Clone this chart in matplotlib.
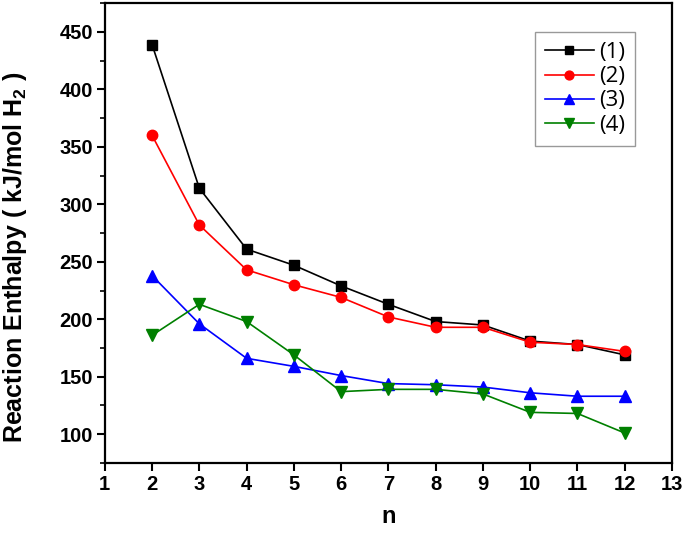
import matplotlib.pyplot as plt
from matplotlib.ticker import MultipleLocator

plt.rcParams['font.family'] = ['Liberation Sans', 'DejaVu Sans']
plt.rcParams['mathtext.fontset'] = 'custom'
plt.rcParams['mathtext.rm'] = 'Liberation Sans'
plt.rcParams['mathtext.bf'] = 'Liberation Sans:bold'

n = [2, 3, 4, 5, 6, 7, 8, 9, 10, 11, 12]
s1 = [439, 314, 261, 247, 229, 213, 198, 195, 181, 178, 169]
s2 = [360, 282, 243, 230, 219, 202, 193, 193, 180, 178, 172]
s3 = [238, 196, 166, 159, 151, 144, 143, 141, 136, 133, 133]
s4 = [186, 213, 198, 169, 137, 139, 139, 135, 119, 118, 101]
labels = ['(1)', '(2)', '(3)', '(4)']

fig = plt.figure(figsize=(6.85, 5.37), dpi=100)
ax = fig.add_axes([0.153, 0.138, 0.828, 0.856])

ax.plot(n, s1, color='black', marker='s', ms=6.5, lw=1.2, label=labels[0])
ax.plot(n, s2, color='red', marker='o', ms=7.5, lw=1.2, label=labels[1])
ax.plot(n, s3, color='blue', marker='^', ms=8, lw=1.2, label=labels[2])
ax.plot(n, s4, color='green', marker='v', ms=8, lw=1.2, label=labels[3])

ax.set_xlim(1, 13)
ax.set_ylim(75, 475)
ax.xaxis.set_major_locator(MultipleLocator(1))
ax.yaxis.set_minor_locator(MultipleLocator(25))
ax.set_yticks([100, 150, 200, 250, 300, 350, 400, 450])

for sp in ax.spines.values():
    sp.set_linewidth(1.6)
ax.tick_params(which='major', direction='out', length=6, width=1.5,
               labelsize=14.5, pad=2.5)
ax.tick_params(which='minor', direction='out', length=3.5, width=1.2)
ax.tick_params(top=False, right=False)
for t in ax.get_xticklabels() + ax.get_yticklabels():
    t.set_fontweight('bold')

ax.set_xlabel('n', fontsize=17, fontweight='bold', labelpad=8)
ax.set_ylabel('Reaction Enthalpy ( kJ/mol H$_\\mathbf{2}$ )', fontsize=18,
              fontweight='bold', labelpad=22)
ax.yaxis.label.set_y(0.447)

leg = ax.legend(loc='upper right', bbox_to_anchor=(0.935, 0.937),
                borderaxespad=0, prop={'family': 'Open Sans', 'size': 16},
                fancybox=False, edgecolor='gray', handlelength=2.2,
                labelspacing=0.14, borderpad=0.45, handletextpad=0.25,
                markerscale=0.85)
leg.get_frame().set_linewidth(1.0)

plt.savefig('out.png', dpi=100, facecolor='white')
